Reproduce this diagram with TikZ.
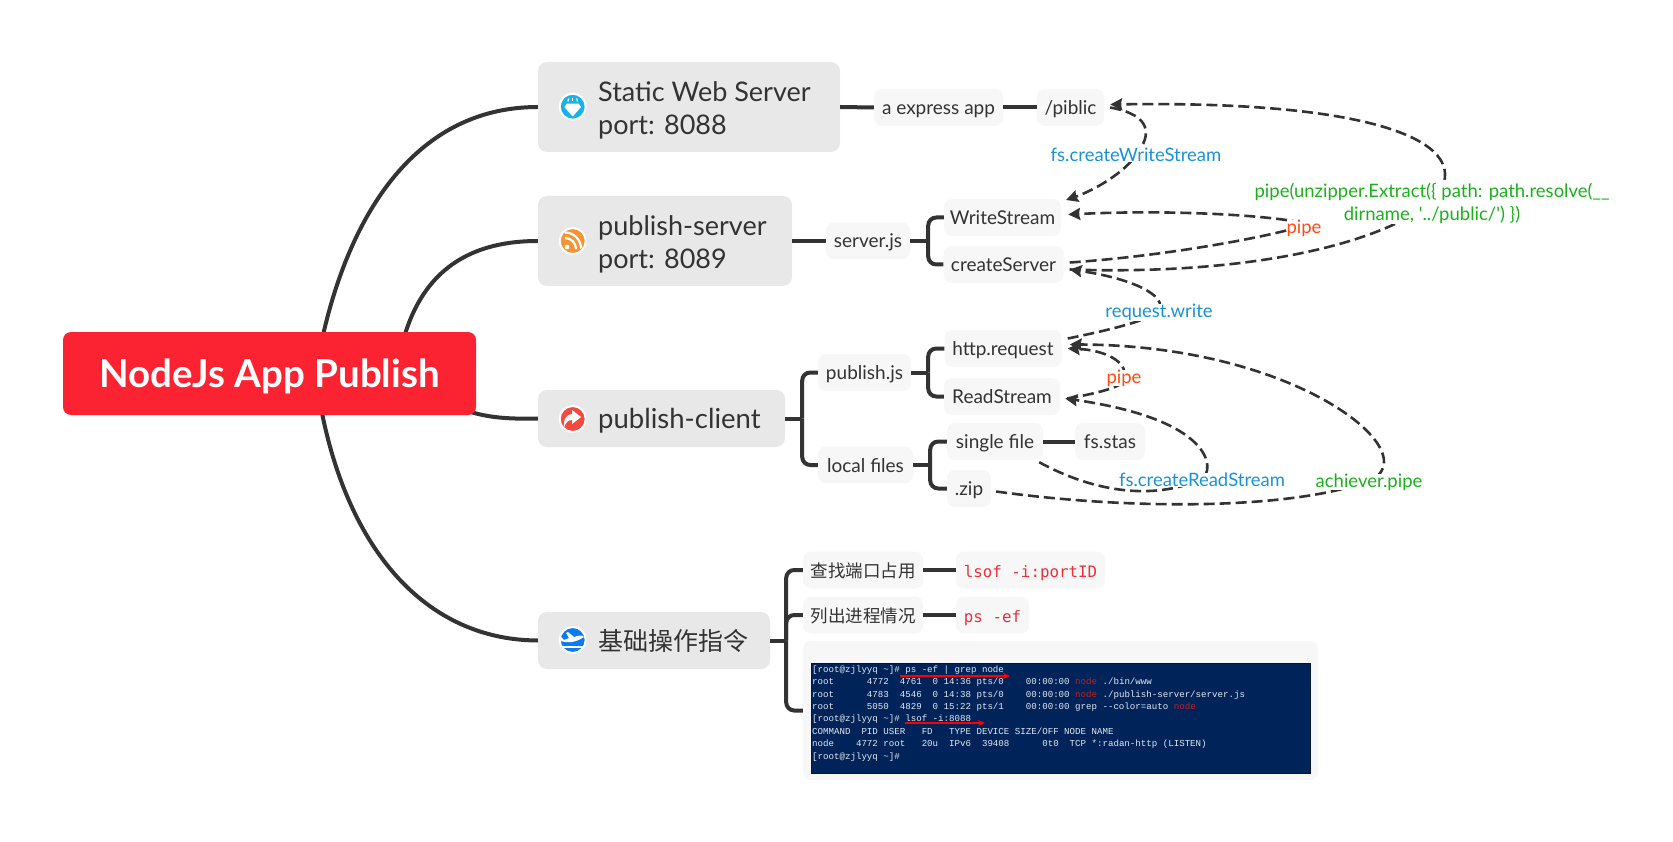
\documentclass[tikz,border=0pt]{standalone}
\usepackage{fontspec}
\setmainfont{Lato}
\setmonofont{DejaVu Sans Mono}
\newfontfamily\cjk{Noto Sans CJK SC}
\newfontfamily\termfont{Liberation Mono}
\usetikzlibrary{arrows.meta, backgrounds}

\definecolor{inkgray}{HTML}{333333}
\definecolor{rootred}{HTML}{FB2331}
\definecolor{topgray}{HTML}{E8E8E8}
\definecolor{subgray}{HTML}{F7F7F7}
\definecolor{relblue}{HTML}{1A92D8}
\definecolor{relgreen}{HTML}{1DB01D}
\definecolor{relred}{HTML}{FF4A14}
\definecolor{cmdred}{HTML}{E8303A}
\definecolor{termblue}{HTML}{00245A}
\definecolor{termtext}{HTML}{E4E8F0}
\definecolor{termred}{HTML}{C81E1E}
\definecolor{gemblue}{HTML}{19B2E8}
\definecolor{feedorange}{HTML}{F79431}
\definecolor{sharered}{HTML}{F5483F}
\definecolor{planeblue}{HTML}{0A7CF0}

\tikzset{
    x=1pt, y=-1pt,
    rootbox/.style={fill=rootred, text=white, rounded corners=8pt, inner sep=0pt,
        minimum width=413pt, minimum height=83pt, text height=27pt, text depth=0pt,
        font=\fontsize{38.5}{46}\selectfont\bfseries},
    topbox/.style={fill=topgray, rounded corners=9pt, inner sep=0pt},
    toptext/.style={anchor=west, inner sep=0pt, align=left, text=inkgray,
        font=\fontsize{27}{33}\selectfont},
    subbox/.style={fill=subgray, rounded corners=8pt, inner sep=0pt, minimum height=37pt,
        text height=14pt, text depth=0pt, text=inkgray, font=\fontsize{19}{22}\selectfont},
    iconball/.style={circle, draw=white, line width=2pt, minimum size=26pt, inner sep=0pt},
    link/.style={draw=inkgray, line width=4pt},
    trunk/.style={link, rounded corners=8pt},
    rel/.style={draw=inkgray, line width=2.6pt, dash pattern=on 11pt off 5pt},
    relhead/.style={rel, -{Stealth[length=12pt, width=12pt, inset=1.5pt]}},
    rellabel/.style={fill=white, inner sep=0pt, font=\fontsize{18.5}{22}\selectfont},
    termline/.style={red, line width=1.4pt, -{Stealth[length=7pt, width=6pt]}},
}

\begin{document}
\begin{tikzpicture}
    \useasboundingbox (0,0) rectangle (1673,842);

    % Main boxes
    \node[rootbox] (root) at (269.5,373.5) {NodeJs App Publish};
    \node[topbox, minimum width=302pt, minimum height=90pt] (static) at (689,107) {};
    \node[topbox, minimum width=254pt, minimum height=90pt] (server) at (665,241) {};
    \node[topbox, minimum width=247pt, minimum height=57pt] (client) at (661.5,418.5) {};
    \node[topbox, minimum width=232pt, minimum height=57pt] (basics) at (654,640.5) {};

    \node[toptext] (staticText) at (598,110) {Static Web Server\\port: 8088};
    \node[toptext] (serverText) at (598,244) {publish-server\\port: 8089};
    \node[toptext, font=\fontsize{27.5}{33}\selectfont] (clientText) at (598,421) {publish-client};
    \node[toptext, font=\fontsize{25}{30}\selectfont\cjk] (basicsText) at (598,641) {基础操作指令};

    % Small boxes
    \foreach \name/\cx/\cy/\boxw/\txt in {
        express/938.5/107.5/129/a express app,
        piblic/1070.5/107.5/67/{/piblic},
        serverjs/868/241/84/server.js,
        write/1002.5/217.5/117/WriteStream,
        create/1003.5/264.5/120/createServer,
        publishjs/864.5/372.5/93/publish.js,
        localfiles/865.5/465/95/local files,
        request/1003/348.5/117/http.request,
        readstream/1002/396.5/116/ReadStream,
        single/995/441.5/96/single file,
        stas/1110/441.5/70/fs.stas,
        zip/969/488.5/44/.zip}
        \node[subbox, minimum width=\boxw pt] (\name) at (\cx,\cy) {\txt};

    \node[subbox, minimum width=120pt, font=\fontsize{17.5}{22}\selectfont\cjk] (findport) at (863,570) {查找端口占用};
    \node[subbox, minimum width=120pt, font=\fontsize{17.5}{22}\selectfont\cjk] (listproc) at (863,615) {列出进程情况};
    \node[subbox, minimum width=149pt, text=cmdred, font=\fontsize{15.8}{20}\selectfont\ttfamily] (lsof) at (1030.5,570) {lsof -i:portID};
    \node[subbox, minimum width=73pt, text=cmdred, font=\fontsize{15.8}{20}\selectfont\ttfamily] (psef) at (992.5,615) {ps -ef};
    \node[subbox, minimum width=515pt, minimum height=139pt] (shot) at (1060.5,710.5) {};

    % Terminal picture
    \node[fill=termblue, draw=black!35!termblue, line width=0.5pt, minimum width=499pt, minimum height=110pt, inner sep=0pt] (term) at (1061,718) {};
    \node[anchor=north west, inner sep=0pt, align=left, text=termtext, font=\fontsize{9.13}{12.4}\selectfont\termfont] (termText) at (812,665.5) {%
        {[}root@zjlyyq~\textasciitilde]\#~ps~-ef~|~grep~node\\
        root~~~~~~4772~~4761~~0~14:36~pts/0~~~~00:00:00~\textcolor{termred}{node}~./bin/www\\
        root~~~~~~4783~~4546~~0~14:38~pts/0~~~~00:00:00~\textcolor{termred}{node}~./publish-server/server.js\\
        root~~~~~~5050~~4829~~0~15:22~pts/1~~~~00:00:00~grep~-{}-color=auto~\textcolor{termred}{node}\\
        {[}root@zjlyyq~\textasciitilde]\#~lsof~-i:8088\\
        COMMAND~~PID~USER~~~FD~~~TYPE~DEVICE~SIZE/OFF~NODE~NAME\\
        node~~~~4772~root~~~20u~~IPv6~~39408~~~~~~0t0~~TCP~*:radan-http~(LISTEN)\\
        {[}root@zjlyyq~\textasciitilde]\#};
    \coordinate (psFrom) at (900,676);
    \coordinate (psTo) at (1010,676);
    \coordinate (lsofFrom) at (905,723);
    \coordinate (lsofTo) at (985,723);
    \draw[termline] (psFrom) -- (psTo);
    \draw[termline] (lsofFrom) -- (lsofTo);

    % Curves from the root, behind it
    \begin{scope}[on background layer]
        \draw[link] ([xshift=46pt]root.center) .. controls (340,225) and (410,107) .. (static.west);
        \draw[link] ([xshift=127pt]root.center) .. controls (408,290) and (450,241) .. (server.west);
        \draw[link] ([xshift=180pt,yshift=-30pt]root.center) .. controls (480,419) and (510,419) .. (client.west);
        \draw[link] ([xshift=46pt]root.center) .. controls (337,540) and (420,640) .. (basics.west);
    \end{scope}

    % Straight links
    \foreach \from/\dest in {static/express, express/piblic, server/serverjs, single/stas, findport/lsof, listproc/psef}
        \draw[link] (\from.east) -- (\dest.west);

    % Branches
    \foreach \from/\dx/\dest in {serverjs/18/write, serverjs/18/create, client/17/publishjs, client/17/localfiles,
        publishjs/17/request, publishjs/17/readstream, localfiles/17/single, localfiles/17/zip,
        basics/16/findport, basics/16/listproc, basics/16/shot} {
        \draw[link] (\from.east) -- ++(\dx,0) coordinate (bend);
        \draw[trunk] (bend) |- (\dest.west);
    }

    % Relations
    \draw[relhead] ([xshift=6pt]piblic.east) .. controls (1152,115) and (1152,135) .. (1136,155)
        .. controls (1125,172) and (1095,190) .. (1066,200);
    \node[rellabel, text=relblue] (writeLabel) at (1136,155) {fs.createWriteStream};

    \draw[relhead] ([xshift=6pt,yshift=-5pt]create.east) .. controls (1230,275) and (1370,250) .. (1432,202)
        .. controls (1480,150) and (1400,100) .. ([xshift=6pt,yshift=3pt]piblic.east);
    \node[rellabel, text=relgreen, align=center, font=\fontsize{18.5}{22.5}\selectfont] (extractLabel) at (1432,203.5)
        {pipe(unzipper.Extract(\{ path: path.resolve(\_\_\\dirname, \textquotesingle../public/\textquotesingle) \})};

    \draw[relhead] ([xshift=6pt,yshift=2pt]create.east) .. controls (1180,255) and (1290,232) .. (1304,225)
        .. controls (1310,220) and (1200,208) .. ([xshift=7pt,yshift=3pt]write.east);
    \node[rellabel, text=relred] (pipeTop) at (1304,228) {pipe};

    \draw[relhead] ([xshift=6pt,yshift=10pt]request.east) .. controls (1110,330) and (1150,320) .. (1159,311)
        .. controls (1168,295) and (1130,278) .. ([xshift=6pt,yshift=-5pt]create.east);
    \node[rellabel, text=relblue] (writeCall) at (1159,312.5) {request.write};

    \draw[relhead] ([xshift=7pt,yshift=-2pt]readstream.east) .. controls (1100,393) and (1130,385) .. (1124,377)
        .. controls (1128,362) and (1105,350) .. ([xshift=6pt]request.east);
    \node[rellabel, text=relred] (pipeLow) at (1124,378) {pipe};

    \draw[relhead] ([xshift=-4pt,yshift=-2pt]single.south east) .. controls (1090,490) and (1150,502) .. (1202,479)
        .. controls (1215,470) and (1215,420) .. ([xshift=5pt,yshift=-2pt]readstream.east);
    \node[rellabel, text=relblue] (readLabel) at (1202,480) {fs.createReadStream};

    \draw[relhead] ([xshift=5pt,yshift=-3pt]zip.east) .. controls (1130,510) and (1290,510) .. (1369,481)
        .. controls (1430,455) and (1300,345) .. ([xshift=8pt,yshift=4pt]request.east);
    \node[rellabel, text=relgreen] (pipeGreen) at (1369,482) {achiever.pipe};

    % Icons
    \node[iconball, fill=gemblue] (gem) at (572.7,106.7) {};
    \fill[white] (566.7,103.7) -- (578.7,103.7) -- (581,107) -- (572.7,116.5) -- (564.4,107) -- cycle;
    \foreach \dx in {-4,0,4}
        \draw[white, line width=1.2pt] (572.7+\dx,98.5) -- (572.7+\dx*1.2,101.5);

    \node[iconball, fill=feedorange] (feed) at (572.7,241) {};
    \fill[white] (567,247) circle (2.4);
    \draw[white, line width=2.2pt] (565,238) arc[start angle=-90, end angle=0, radius=11];
    \draw[white, line width=2.2pt] (565,232.5) arc[start angle=-90, end angle=0, radius=16];

    \node[iconball, fill=sharered] (share) at (572.7,419) {};
    \fill[white] (572,410) -- (581,417) -- (572,424) -- (572,420) .. controls (568,420) and (565,423) .. (564,428)
        .. controls (563,419) and (567,414) .. (572,414) -- cycle;

    \node[iconball, fill=planeblue] (plane) at (572.7,640) {};
    \fill[white] (561,641) .. controls (570,644) and (578,641) .. (584,637) .. controls (582,634) and (577,636) .. (574,637)
        -- (568,632) -- (566,633) -- (569,638) -- (564,640) -- (561,637) -- cycle;
    \fill[white] (562,646) -- (583,646) -- (583,647.5) -- (562,647.5) -- cycle;
\end{tikzpicture}
\end{document}
